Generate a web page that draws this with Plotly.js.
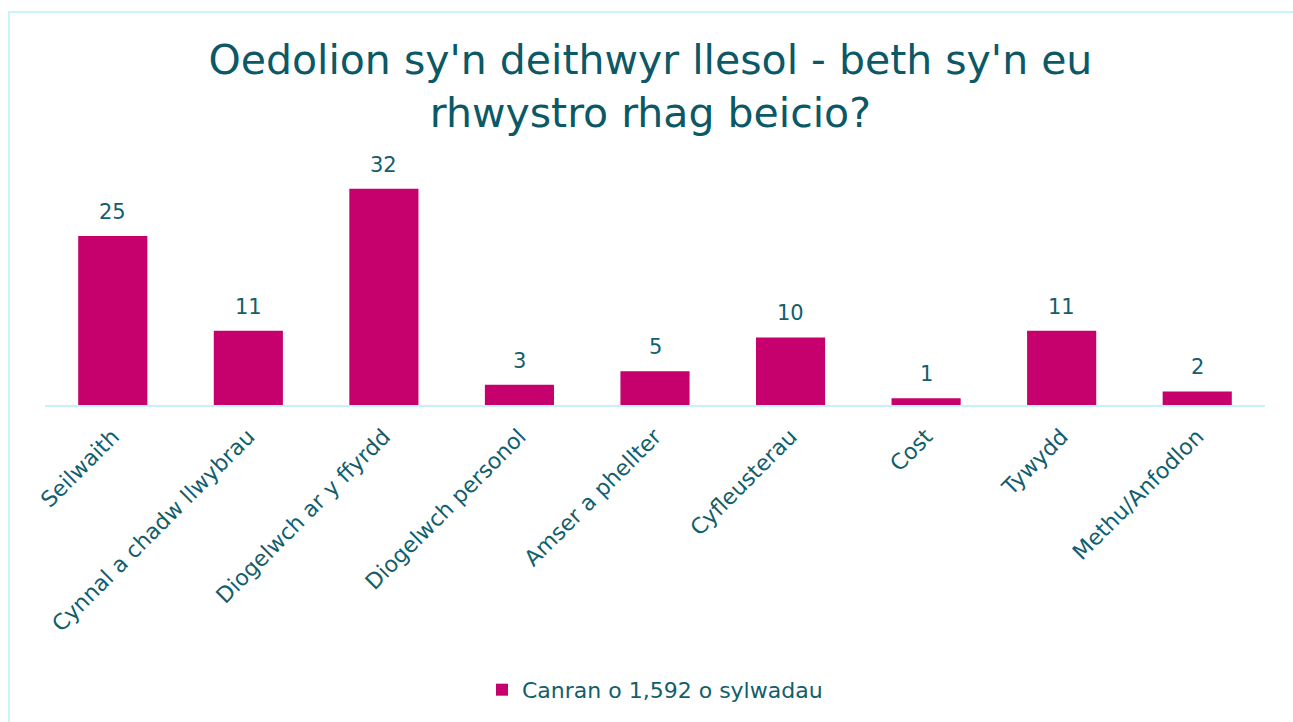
<!DOCTYPE html>
<html>
<head>
<meta charset="utf-8">
<script src="https://cdn.plot.ly/plotly-3.0.1.min.js"></script>
<style>
html,body{margin:0;padding:0;background:#fff;overflow:hidden;}
#chart{width:1293px;height:722px;position:absolute;left:0;top:0;}
#frame{position:absolute;left:8px;top:11px;width:1300px;height:720px;border:2px solid #C8F4FA;pointer-events:none;box-sizing:border-box;}
</style>
</head>
<body>
<div id="chart"></div>
<div id="frame"></div>
<script>
const categories = ["Seilwaith","Cynnal a chadw llwybrau","Diogelwch ar y ffyrdd","Diogelwch personol","Amser a phellter","Cyfleusterau","Cost","Tywydd","Methu/Anfodlon"];
const values = [25, 11, 32, 3, 5, 10, 1, 11, 2];
const seriesName = "Canran o 1,592 o sylwadau";
const titleText = "Oedolion sy'n deithwyr llesol - beth sy'n eu<br>rhwystro rhag beicio?";

const FONT = "DejaVu Sans, sans-serif";
const TEXT = "#115E6C";

const trace = {
  type: "bar",
  x: categories,
  y: values,
  name: seriesName,
  marker: {color: "#C6006D", line: {width: 0}},
  showlegend: true
};

const annotations = categories.map((c, i) => ({
  x: c, y: values[i], xref: "x", yref: "y",
  text: String(values[i]), showarrow: false,
  yanchor: "bottom", yshift: 10,
  font: {family: FONT, size: 21, color: TEXT}
}));

const layout = {
  width: 1293, height: 722,
  paper_bgcolor: "#fff", plot_bgcolor: "#fff",
  margin: {l: 45, r: 28, t: 140, b: 317},
  bargap: 0.49,
  title: {text: titleText, x: 0.503, xanchor: "center", y: 0.898, yanchor: "middle",
          font: {family: FONT, size: 41, color: "#0B5866"}},
  xaxis: {tickangle: -45, showline: true, linecolor: "#C5F1F7", linewidth: 2,
          ticks: "", showgrid: false, zeroline: false, ticklabelstandoff: 8,
          tickfont: {family: FONT, size: 22, color: TEXT}},
  yaxis: {range: [0, 39.2], visible: false, showgrid: false, zeroline: false},
  annotations: annotations,
  showlegend: true,
  legend: {orientation: "h", x: 0.5, xanchor: "center", y: -1.075, yanchor: "middle",
           font: {family: FONT, size: 22, color: TEXT}, itemwidth: 30}
};

Plotly.newPlot("chart", [trace], layout, {displayModeBar: false, staticPlot: true});
</script>
</body>
</html>
